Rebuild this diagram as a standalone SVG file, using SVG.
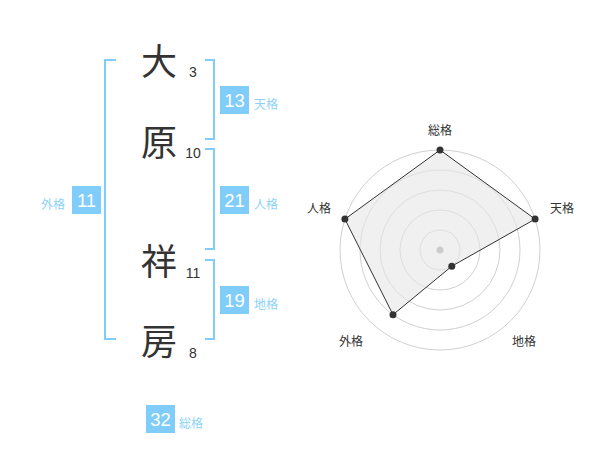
<svg xmlns="http://www.w3.org/2000/svg" width="600" height="470" viewBox="0 0 600 470">
<style>
.kanji{font-family:"Noto Sans CJK JP","Noto Sans CJK SC",sans-serif;font-size:36px;fill:#333;text-anchor:middle}
.stroke{font-family:"Liberation Sans",Arial,sans-serif;font-size:14px;fill:#333;text-anchor:middle}
.box{fill:#80ccfa}
.num{font-family:"Liberation Sans",Arial,sans-serif;font-size:18.5px;fill:#fff;text-anchor:middle}
.lbl{font-family:"Noto Sans CJK JP","Noto Sans CJK SC",sans-serif;font-size:12px;fill:#8dd2fb}
.br{fill:none;stroke:#80ccfa;stroke-width:2}
.ring{fill:none;stroke:#d0d0d0;stroke-width:1}
.rl{font-family:"Noto Sans CJK JP","Noto Sans CJK SC",sans-serif;font-size:12px;fill:#333;text-anchor:middle}
.dot{fill:#333}
</style>
<g id="connectors">
<path class="br" d="M116,60 H105 V339 H116"/>
<path class="br" d="M205,60 H214 V139 H205"/>
<path class="br" d="M205,149 H214 V249 H205"/>
<path class="br" d="M205,260 H214 V339 H205"/>
</g>
<g id="char-1"><text class="kanji" x="159" y="75">大</text><text class="stroke" x="193" y="77">3</text></g>
<g id="char-2"><text class="kanji" x="159" y="156">原</text><text class="stroke" x="193" y="158">10</text></g>
<g id="char-3"><text class="kanji" x="159" y="275">祥</text><text class="stroke" x="193" y="278">11</text></g>
<g id="char-4"><text class="kanji" x="159" y="355">房</text><text class="stroke" x="193" y="358">8</text></g>
<g id="tenkaku"><rect class="box" x="220" y="86" width="29" height="28"/><text class="num" x="234.5" y="107">13</text><text class="lbl" x="254" y="109">天格</text></g>
<g id="jinkaku"><rect class="box" x="220" y="186" width="29" height="28"/><text class="num" x="234.5" y="207">21</text><text class="lbl" x="254" y="209">人格</text></g>
<g id="chikaku"><rect class="box" x="220" y="286" width="29" height="28"/><text class="num" x="234.5" y="307">19</text><text class="lbl" x="254" y="309">地格</text></g>
<g id="gaikaku"><rect class="box" x="72" y="186" width="29" height="28"/><text class="num" x="86.5" y="207">11</text><text class="lbl" x="41" y="209">外格</text></g>
<g id="soukaku"><rect class="box" x="146" y="405" width="29" height="28"/><text class="num" x="160.5" y="426">32</text><text class="lbl" x="179" y="428">総格</text></g>
<g id="radar">
<circle class="ring" cx="440" cy="250" r="20"/>
<circle class="ring" cx="440" cy="250" r="40"/>
<circle class="ring" cx="440" cy="250" r="60"/>
<circle class="ring" cx="440" cy="250" r="80"/>
<circle class="ring" cx="440" cy="250" r="100"/>
<polygon points="440,150 535.1,219.1 451.8,266.2 393,314.7 344.9,219.1" fill="#e6e6e6" fill-opacity="0.6" stroke="#333" stroke-width="1"/>
<circle cx="440" cy="250" r="3.5" fill="#ccc"/>
<circle class="dot" cx="440" cy="150" r="3.5"/>
<circle class="dot" cx="535.1" cy="219.1" r="3.5"/>
<circle class="dot" cx="451.8" cy="266.2" r="3.5"/>
<circle class="dot" cx="393" cy="314.7" r="3.5"/>
<circle class="dot" cx="344.9" cy="219.1" r="3.5"/>
<text class="rl" x="440" y="135">総格</text>
<text class="rl" x="562" y="213">天格</text>
<text class="rl" x="319" y="213">人格</text>
<text class="rl" x="351" y="346">外格</text>
<text class="rl" x="524" y="346">地格</text>
</g>
</svg>
